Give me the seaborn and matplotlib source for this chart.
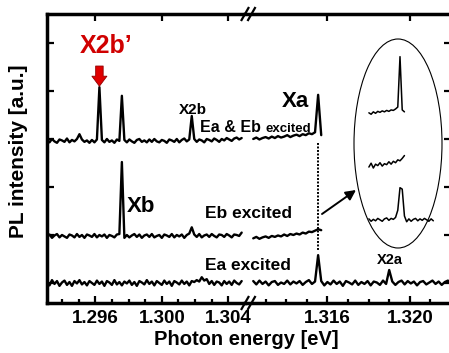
import numpy as np
import pandas as pd
import matplotlib
matplotlib.use("Agg")
import matplotlib.pyplot as plt
import seaborn as sns
from matplotlib.patches import Ellipse
from matplotlib.ticker import FixedLocator

# ---------------------------------------------------------------- data
# PL counts (100 counts = one y tick), sampled every 0.15 meV
STEP = 0.00015
LEFT_START = 1.2931     # first sample of the low-energy window
RIGHT_START = 1.3124    # first sample of the high-energy window

trace_names = ["Ea excited", "Eb excited", "Ea & Eb excited"]
trace_offsets = [0, 98, 296]

top_left = [
    2, -3, 4, -1, -4, 3, 1, -2, 5, -3,
    2, -1, 4, 14, 3, -2, 1, -4, 2, -3,
    3, 112, 2, -3, 4, -2, 1, -4, 3, 0,
    94, 2, -3, 3, -1, -4, 2, 4, -2, 1,
    -3, 3, -2, 4, -1, -3, 2, 0, -4, 3,
    1, -2, 4, -3, 2, 5, -1, 3, 52, 4,
    -2, 3, 1, -3, 4, 2, -1, 5, 2, -2,
    4, 1, 6, 3, 0, 5, 7, 3, 6,
]
top_right = [4, 7, 3, 6, 8, 5, 9, 6, 10, 7, 9, 12, 8, 11, 13, 10, 14, 12,
             16, 14, 18, 96, 12]

mid_left = [
    -2, 3, -4, 1, 4, -3, 2, -1, -4, 3,
    1, -3, 4, -2, 2, -4, 3, 1, -2, 4,
    -3, 2, -1, 3, -4, 2, 0, -3, 3, 4,
    154, -4, 2, -3, 1, 4, -2, 3, -4, 1,
    3, -2, 4, -3, 0, 2, -4, 3, 1, -2,
    4, -3, 2, -1, 3, -4, 2, 5, 18, 3,
    -2, 4, -3, 1, 3, -2, 4, 0, -3, 3,
    2, -2, 4, 1, -3, 3, 2, 0, 7,
]
mid_right = [-5, -2, -6, -3, -1, -4, 0, -2, 1, -1, 3, 0, 4, 2, 5, 3, 7, 5,
             9, 8, 11, 14, 12]

bot_left = [
    3, -5, 6, -2, 4, -6, 1, 5, -4, 2,
    -6, 4, -1, 6, -3, 2, -5, 4, 0, -4,
    5, -2, 3, -6, 4, 1, -4, 6, -3, 2,
    -5, 3, -1, 5, -4, 2, -6, 4, 1, -3,
    6, -2, 3, -5, 4, 0, -4, 5, -2, 3,
    -6, 4, 1, -3, 5, -2, 3, -5, 4, 2,
    6, 3, 12, 5, 8, -2, 4, -4, 3, 1,
    -5, 4, -2, 3, -4, 5, 0, -3, 4,
]
bot_right = [
    4, -3, 5, -2, 3, -5, 2, 4, -4, 1,
    -2, 5, -3, 3, -1, 4, -4, 2, 6, -2,
    3, 58, 4, -5, 2, -3, 5, -2, 3, -6,
    4, 1, -3, 5, -4, 2, -2, 4, -5, 3,
    1, -4, 5, -2, 27, 3, -4, 2, 5, -3,
    4, -1, 3, -5, 2, 4, -3, 1, 5, -2,
    3, -4, 2, 5, -1,
]

# zoom on the Xa line (sampled every 0.05 meV)
INSET_STEP = 0.00005
INSET_START = 1.3149
inset_offsets = [42, 152, 265]
inset_bot = [2, -3, 1, -2, 3, 0, -3, 2, 4, -1, 3, 1, 5, 20, 67, 64, 8, -4,
             2, -3, 1, 3, -2, 2, -1, 3, 0, -3, 2, -2]
inset_mid = [0, 8, -2, 6, 3, 9, 2, 7, 5, 11, 6, 12, 9, 15, 13, 18, 24]
inset_top = [0, -3, 2, -1, 3, 1, 4, 2, 5, 3, 6, 5, 8, 12, 117, 6, 2]

# line energies [eV]
E_X2b_prime = 1.29625
E_Xa = 1.31555

# ---------------------------------------------------------------- frames
def frame(values_by_trace, start, step, offsets):
    rows = []
    for name, vals, off in zip(trace_names, values_by_trace, offsets):
        e = start + step * np.arange(len(vals))
        rows.append(pd.DataFrame({"energy": e,
                                  "signal": np.asarray(vals, float) + off,
                                  "trace": name}))
    return pd.concat(rows, ignore_index=True)

df_left = frame([bot_left, mid_left, top_left], LEFT_START, STEP, trace_offsets)
df_right = frame([bot_right, mid_right, top_right], RIGHT_START, STEP, trace_offsets)
df_inset = frame([inset_bot, inset_mid, inset_top], INSET_START, INSET_STEP,
                 inset_offsets)

# ---------------------------------------------------------------- style
sns.set_theme(style="ticks")
plt.rcParams["font.family"] = ["Liberation Sans", "DejaVu Sans"]
plt.rcParams["font.weight"] = "bold"

W, H = 449, 353
fig = plt.figure(figsize=(W / 100, H / 100), dpi=100)
fig.patch.set_facecolor("white")


def rect(x0, x1, y0, y1):
    return [x0 / W, 1 - y1 / H, (x1 - x0) / W, (y1 - y0) / H]


axL = fig.add_axes(rect(47, 245, 14, 303))
axR = fig.add_axes(rect(245, 451, 14, 303))

YLIM = (-41.7, 560.4)
LW = 1.7
for ax, df in ((axL, df_left), (axR, df_right)):
    sns.lineplot(data=df, x="energy", y="signal", units="trace",
                 estimator=None, sort=False, color="black", lw=LW,
                 legend=False, ax=ax)
    ax.set_ylim(*YLIM)
    ax.set_xlabel("")
    ax.set_ylabel("")
    ax.set_facecolor("white")
    for s in ax.spines.values():
        s.set_linewidth(2.5)
        s.set_color("black")
    ax.yaxis.set_major_locator(FixedLocator([0, 100, 200, 300, 400, 500]))
    ax.tick_params(axis="both", which="both", direction="in", colors="black",
                   width=1.6)
    ax.tick_params(axis="both", which="major", length=5)
    ax.tick_params(axis="both", which="minor", length=3)
    ax.tick_params(axis="x", top=True, bottom=True, labelsize=13.5, pad=5)

axL.set_xlim(1.2931, 1.305)
axR.set_xlim(1.312, 1.322)
axL.xaxis.set_major_locator(FixedLocator([1.296, 1.300, 1.304]))
axL.xaxis.set_minor_locator(FixedLocator([1.294, 1.295, 1.297, 1.298, 1.299,
                                          1.301, 1.302, 1.303]))
axR.xaxis.set_major_locator(FixedLocator([1.316, 1.320]))
axR.xaxis.set_minor_locator(FixedLocator([1.313, 1.314, 1.315, 1.317, 1.318,
                                          1.319, 1.321]))
axL.set_xticklabels(["1.296", "1.300", "1.304"])
axR.set_xticklabels(["1.316", "1.320"])

axL.spines["right"].set_visible(False)
axR.spines["left"].set_visible(False)
axL.tick_params(axis="y", left=True, right=False, labelleft=False)
axR.tick_params(axis="y", left=False, right=True, labelleft=False,
                labelright=False)

# guide from the upper Xa line down to the lower spectra
axR.plot([E_Xa, E_Xa], [292, 69], color="black", lw=1.4,
         linestyle=(0, (1, 0.8)))

# red arrow marking X2b'
peak_top = trace_offsets[2] + max(top_left)
axL.annotate("", xy=(E_X2b_prime, peak_top + 2),
             xytext=(E_X2b_prime, peak_top + 44),
             arrowprops=dict(arrowstyle="simple,head_length=0.6,head_width=0.9,tail_width=0.45",
                             fc="#e00000", ec="#900000", lw=0.6,
                             shrinkA=0, shrinkB=0, mutation_scale=12))

# ---------------------------------------------------------------- inset
axI = fig.add_axes(rect(360, 440, 40, 240))
sns.lineplot(data=df_inset, x="energy", y="signal", units="trace",
             estimator=None, sort=False, color="black", lw=1.1,
             legend=False, ax=axI)
axI.set_xlim(1.3147, 1.3165)
axI.set_ylim(0, 416.7)
axI.axis("off")

# ---------------------------------------------------------------- overlay
ov = fig.add_axes([0, 0, 1, 1], zorder=10)
ov.set_xlim(0, W)
ov.set_ylim(H, 0)
ov.axis("off")
ov.patch.set_alpha(0)

ov.add_patch(Ellipse((398, 143.5), 88, 209, fill=False, ec="black", lw=0.8))
ov.annotate("", xy=(356, 190), xytext=(322, 214),
            arrowprops=dict(arrowstyle="-|>,head_length=0.5,head_width=0.25",
                            color="black", lw=1.4, shrinkA=0, shrinkB=0))

# axis break marks
for yb in (14, 303):
    for xb in (245, 251.5):
        ov.plot([xb - 4, xb + 4], [yb + 7, yb - 7], color="black", lw=1.6,
                solid_capstyle="butt")

bold = dict(fontweight="bold", color="black")
ov.text(80, 53, "X2b\u2019", fontsize=18, color="#d00000",
        fontweight="bold", ha="left", va="baseline")
ov.text(193, 114, "X2b", fontsize=11, ha="center", va="baseline", **bold)
ov.text(200, 132, "Ea & Eb", fontsize=11.5, ha="left", va="baseline", **bold)
ov.text(265, 132, "excited", fontsize=9.5, ha="left", va="baseline", **bold)
ov.text(282, 107, "Xa", fontsize=16, ha="left", va="baseline", **bold)
ov.text(127, 212, "Xb", fontsize=16, ha="left", va="baseline", **bold)
ov.text(205, 218, "Eb excited", fontsize=12.5, ha="left", va="baseline", **bold)
ov.text(205, 270, "Ea excited", fontsize=12.5, ha="left", va="baseline", **bold)
ov.text(390, 264, "X2a", fontsize=10.5, ha="center", va="baseline", **bold)

ov.text(19, 151, "PL intensity [a.u.]", fontsize=15, rotation=90,
        ha="center", va="center", **bold)
ov.text(246, 345, "Photon energy [eV]", fontsize=14.5, ha="center",
        va="baseline", **bold)

fig.savefig("out.png", dpi=100, facecolor="white")
